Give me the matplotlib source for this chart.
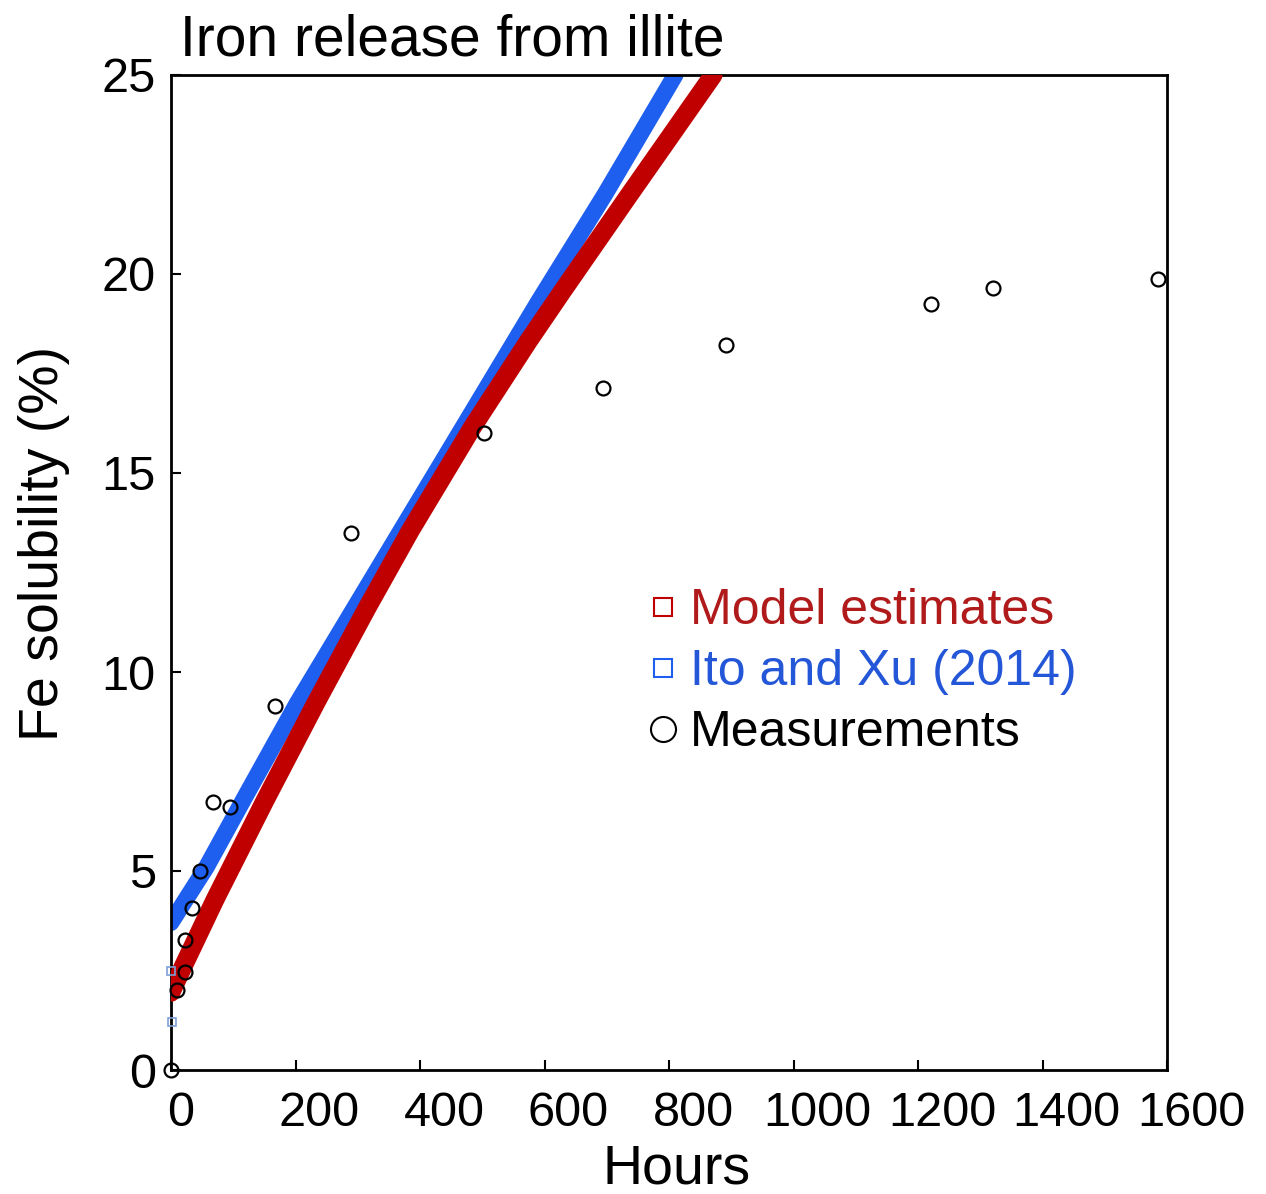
import matplotlib
matplotlib.use("Agg")
import matplotlib.pyplot as plt
import matplotlib.transforms as mtransforms
from matplotlib.lines import Line2D

plt.rcParams['font.family'] = ['Liberation Sans', 'DejaVu Sans']

# ---- data ----
model_hours = [0, 22, 71, 151, 234, 315, 384, 485, 574, 628, 734, 871]
model_sol = [1.95, 2.68, 4.29, 6.77, 9.26, 11.61, 13.54, 16.17, 18.31, 19.55, 21.94, 25.0]

ito_hours = [0, 57, 116, 202, 590, 697, 810]
ito_sol = [3.7, 5.1, 6.78, 9.2, 19.3, 22.0, 25.0]

ito_pts_hours = [2, 0]
ito_pts_sol = [1.2, 2.5]

meas_hours = [0, 10, 22, 22, 34, 47, 67, 95, 167, 289, 503, 694, 892, 1221, 1320, 1586]
meas_sol = [0.0, 2.0, 2.45, 3.27, 4.07, 5.0, 6.73, 6.62, 9.15, 13.49, 16.0, 17.14, 18.22, 19.25, 19.65, 19.87]

x_ticks = [0, 200, 400, 600, 800, 1000, 1200, 1400, 1600]
y_ticks = [0, 5, 10, 15, 20, 25]

red = '#c00000'
blue = '#1f5ff0'
red_text = '#b01a1a'
blue_text = '#2456d8'

W, H = 1266, 1194
fig = plt.figure(figsize=(W / 100, H / 100), dpi=100)
ax = fig.add_axes([171 / W, 1 - 1070 / H, (1167 - 171) / W, (1070 - 75) / H])

ax.plot(ito_hours, ito_sol, color=blue, lw=12, solid_capstyle='round',
        solid_joinstyle='round', zorder=2)
ax.plot(model_hours, model_sol, color=red, lw=13.5, solid_capstyle='round',
        solid_joinstyle='round', zorder=3)
ax.plot(ito_pts_hours, ito_pts_sol, ls='none', marker='s', ms=6, mfc='none',
        mec='#7fa0d8', mew=1.2, zorder=4, clip_on=False)
ax.plot(meas_hours, meas_sol, ls='none', marker='o', ms=10, mfc='none',
        mec='black', mew=1.6, zorder=5, clip_on=False)

ax.set_xlim(0, 1600)
ax.set_ylim(0, 25)
ax.set_xticks(x_ticks)
ax.set_yticks(y_ticks)
ax.set_xticklabels([str(v) for v in x_ticks])
ax.set_yticklabels([str(v) for v in y_ticks])
ax.tick_params(axis='both', direction='in', length=7, width=1.5, labelsize=35,
               top=False, right=False)
ax.tick_params(axis='x', pad=15)
ax.tick_params(axis='y', pad=11)
for s in ax.spines.values():
    s.set_linewidth(2.0)

# x tick labels sit slightly right of their ticks in the reference
for lab, v in zip(ax.get_xticklabels(), x_ticks):
    dx = 10 if v == 0 else 24
    lab.set_transform(lab.get_transform() +
                      mtransforms.ScaledTranslation(dx / 100, 0, fig.dpi_scale_trans))

ax.set_xlabel('Hours', fontsize=40)
ax.xaxis.set_label_coords((677 - 171) / 996, (1070 - 1143) / 995)
ax.set_ylabel('Fe solubility (%)', fontsize=40)
ax.yaxis.set_label_coords((70 - 171) / 996, (1070 - 543) / 995)

ax.set_title('Iron release from illite', fontsize=41, loc='left',
             x=(180 - 171) / 996, y=(1070 - 56) / 995, pad=0)

handles = [
    Line2D([], [], ls='none', marker='s', ms=13, mfc='none', mec=red, mew=1.5),
    Line2D([], [], ls='none', marker='s', ms=13, mfc='none', mec=blue, mew=1.5),
    Line2D([], [], ls='none', marker='o', ms=18, mfc='none', mec='black', mew=1.5),
]
leg = ax.legend(handles, ['Model estimates', 'Ito and Xu (2014)', 'Measurements'],
                loc='upper left', bbox_to_anchor=((643 - 171) / 996, (1070 - 588) / 995),
                frameon=False, fontsize=36, borderpad=0, borderaxespad=0,
                handlelength=0.8, handletextpad=0.14, labelspacing=0.3)
for t, c in zip(leg.get_texts(), [red_text, blue_text, 'black']):
    t.set_color(c)

fig.savefig('out.png', dpi=100)
